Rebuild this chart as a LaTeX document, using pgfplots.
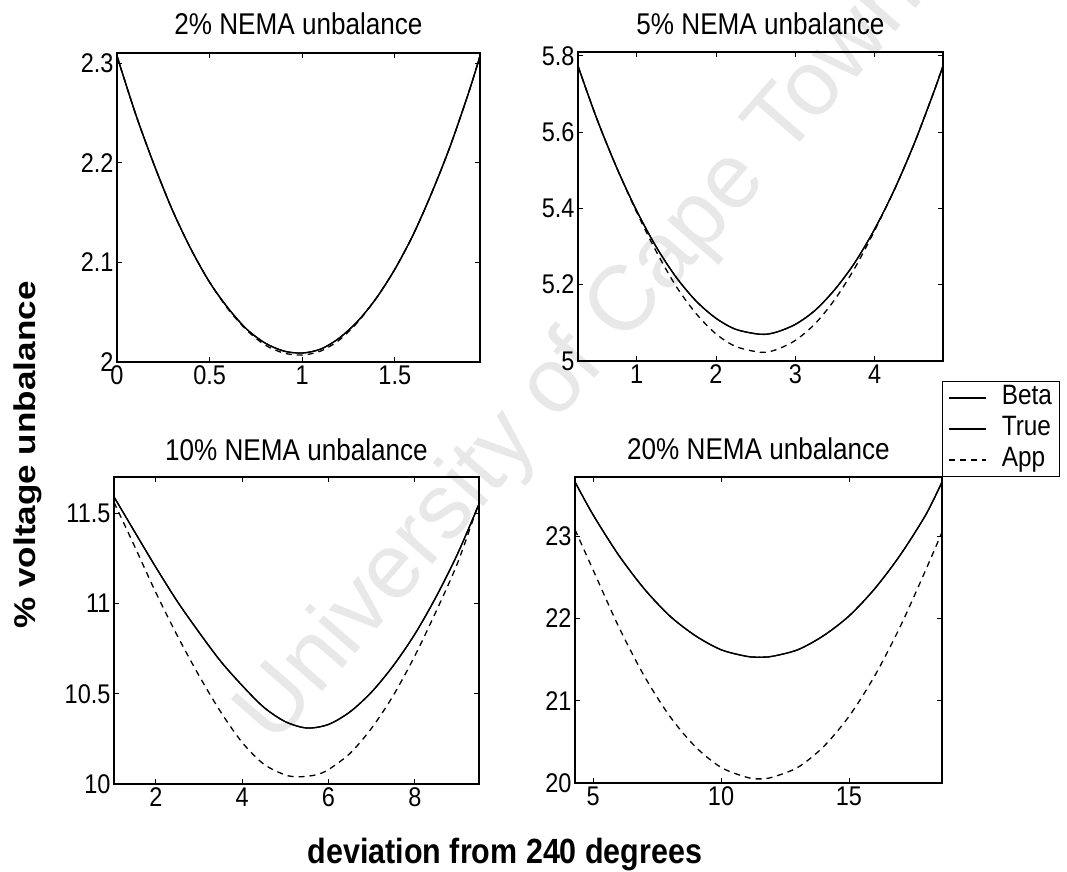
\documentclass[border=0pt]{standalone}
\usepackage{fontspec}
\setmainfont{Liberation Sans}[FakeStretch=0.87]
\newfontfamily\ylabfont{Liberation Sans}[FakeStretch=1.17]
\newfontfamily\wmfont{Liberation Sans}
\usepackage{pgfplots}
\pgfplotsset{compat=1.18}
\pgfplotsset{
  sub/.style={
    scale only axis, anchor=south west,
    axis line style={line width=1.2pt, black},
    tick align=inside, major tick length=5pt,
    every tick/.style={black, line width=0.9pt},
    tick label style={font=\fontsize{27}{27}\selectfont},
    /pgf/number format/assume math mode=true,
    every axis title/.style={at={(0.5,1)}, anchor=base, yshift=18pt, font=\fontsize{30}{30}\selectfont},
  },
  tl/.style={black, line width=1.3pt, smooth},
  ap/.style={black, line width=1.3pt, smooth, dash pattern=on 6pt off 5pt},
}
\begin{document}
\begin{tikzpicture}
\path[use as bounding box] (0,0) rectangle (1067pt,871pt);
\clip (0,0) rectangle (1067pt,871pt);
% watermark
\node[rotate=49, text=black!9, font=\wmfont\fontsize{92}{92}\selectfont] at (582pt,514pt) {University of Cape Town};

% ---------- 2% ----------
\begin{axis}[sub, at={(117pt,509pt)}, width=363pt, height=309pt,
  xmin=0, xmax=1.96, ymin=2, ymax=2.31,
  xtick={0,0.5,1,1.5}, ytick={2,2.1,2.2,2.3},
  title={2\% NEMA unbalance}]
\addplot[tl] coordinates {(0,2.307)(0.1,2.249)(0.2,2.198)(0.3,2.152)(0.4,2.113)(0.5,2.080)(0.6,2.054)(0.7,2.033)(0.8,2.019)(0.9,2.011)(1.0,2.009)(1.1,2.013)(1.2,2.024)(1.3,2.041)(1.4,2.064)(1.5,2.093)(1.6,2.128)(1.7,2.170)(1.8,2.217)(1.9,2.271)(1.96,2.307)};
\addplot[tl] coordinates {(0,2.307)(0.1,2.249)(0.2,2.198)(0.3,2.152)(0.4,2.113)(0.5,2.080)(0.6,2.054)(0.7,2.033)(0.8,2.019)(0.9,2.011)(1.0,2.009)(1.1,2.013)(1.2,2.024)(1.3,2.041)(1.4,2.064)(1.5,2.093)(1.6,2.128)(1.7,2.170)(1.8,2.217)(1.9,2.271)(1.96,2.307)};
\addplot[ap] coordinates {(0,2.307)(0.1,2.249)(0.2,2.198)(0.3,2.152)(0.4,2.113)(0.5,2.080)(0.6,2.053)(0.7,2.032)(0.8,2.017)(0.9,2.009)(1.0,2.007)(1.1,2.011)(1.2,2.022)(1.3,2.040)(1.4,2.064)(1.5,2.093)(1.6,2.128)(1.7,2.170)(1.8,2.217)(1.9,2.271)(1.96,2.307)};
\end{axis}

% ---------- 5% ----------
\begin{axis}[sub, at={(578pt,510pt)}, width=365pt, height=309pt,
  xmin=0.261, xmax=4.861, ymin=5, ymax=5.81,
  xtick={1,2,3,4}, ytick={5,5.2,5.4,5.6,5.8},
  title={5\% NEMA unbalance},
  legend style={at={(0.9973,-0.0647)}, anchor=north west, draw=black, line width=1pt,
    fill=white, inner xsep=6pt, inner ysep=1pt,
    font=\fontsize{28}{28}\selectfont,
    nodes={inner sep=2pt, text height=20pt, text depth=7pt},
    /tikz/every odd column/.append style={column sep=13pt}},
  legend cell align=left,
  legend image code/.code={\draw[#1] (0pt,0pt) -- (37pt,0pt);}]
\addplot[tl] coordinates {(0.261,5.773)(0.5,5.634)(0.75,5.506)(1.0,5.394)(1.25,5.298)(1.5,5.219)(1.75,5.157)(2.0,5.112)(2.25,5.083)(2.56,5.070)(2.75,5.075)(3.0,5.096)(3.25,5.133)(3.5,5.188)(3.75,5.258)(4.0,5.346)(4.25,5.450)(4.5,5.571)(4.75,5.708)(4.861,5.774)};
\addplot[tl] coordinates {(0.261,5.773)(0.5,5.634)(0.75,5.506)(1.0,5.394)(1.25,5.298)(1.5,5.219)(1.75,5.157)(2.0,5.112)(2.25,5.083)(2.56,5.070)(2.75,5.075)(3.0,5.096)(3.25,5.133)(3.5,5.188)(3.75,5.258)(4.0,5.346)(4.25,5.450)(4.5,5.571)(4.75,5.708)(4.861,5.774)};
\addplot[ap] coordinates {(0.261,5.773)(0.5,5.634)(0.75,5.506)(1.0,5.390)(1.25,5.286)(1.5,5.195)(1.75,5.124)(2.0,5.071)(2.25,5.038)(2.56,5.023)(2.75,5.029)(3.0,5.054)(3.25,5.098)(3.5,5.162)(3.75,5.244)(4.0,5.342)(4.25,5.450)(4.5,5.571)(4.75,5.708)(4.861,5.774)};
\legend{Beta,True,App}
\end{axis}

% ---------- 10% ----------
\begin{axis}[sub, at={(114pt,87pt)}, width=365pt, height=307pt,
  xmin=1.03, xmax=9.486, ymin=10, ymax=11.7,
  xtick={2,4,6,8}, ytick={10,10.5,11,11.5},
  every axis title/.append style={yshift=-1pt},
  title={10\% NEMA unbalance}]
\addplot[tl] coordinates {(1.03,11.59)(1.5,11.40)(2.0,11.20)(2.5,11.01)(3.0,10.84)(3.5,10.68)(4.0,10.545)(4.5,10.425)(5.0,10.345)(5.5,10.31)(6.0,10.33)(6.5,10.40)(7.0,10.51)(7.5,10.655)(8.0,10.83)(8.5,11.04)(9.0,11.28)(9.486,11.55)};
\addplot[tl] coordinates {(1.03,11.59)(1.5,11.40)(2.0,11.20)(2.5,11.01)(3.0,10.84)(3.5,10.68)(4.0,10.545)(4.5,10.425)(5.0,10.345)(5.5,10.31)(6.0,10.33)(6.5,10.40)(7.0,10.51)(7.5,10.655)(8.0,10.83)(8.5,11.04)(9.0,11.28)(9.486,11.55)};
\addplot[ap] coordinates {(1.03,11.56)(1.5,11.32)(2.0,11.06)(2.5,10.82)(3.0,10.60)(3.5,10.40)(4.0,10.23)(4.5,10.11)(5.0,10.05)(5.32,10.04)(5.7,10.05)(6.0,10.08)(6.5,10.17)(7.0,10.31)(7.5,10.49)(8.0,10.71)(8.5,10.96)(9.0,11.23)(9.486,11.56)};
\end{axis}

% ---------- 20% ----------
\begin{axis}[sub, at={(575pt,88pt)}, width=367pt, height=306pt,
  xmin=4.293, xmax=18.635, ymin=20, ymax=23.72,
  xtick={5,10,15}, ytick={20,21,22,23},
  every axis title/.append style={yshift=-1pt},
  title={20\% NEMA unbalance}]
\addplot[tl] coordinates {(4.293,23.66)(5,23.26)(6,22.77)(7,22.36)(8,22.03)(9,21.79)(10,21.62)(11,21.54)(11.5,21.53)(12,21.54)(13,21.62)(14,21.79)(15,22.03)(16,22.36)(17,22.77)(18,23.26)(18.635,23.66)};
\addplot[tl] coordinates {(4.293,23.66)(5,23.26)(6,22.77)(7,22.36)(8,22.03)(9,21.79)(10,21.62)(11,21.54)(11.5,21.53)(12,21.54)(13,21.62)(14,21.79)(15,22.03)(16,22.36)(17,22.77)(18,23.26)(18.635,23.66)};
\addplot[ap] coordinates {(4.293,23.08)(5,22.59)(6,21.90)(7,21.30)(8,20.81)(9,20.44)(10,20.19)(11,20.07)(11.5,20.05)(12,20.07)(13,20.19)(14,20.44)(15,20.81)(16,21.30)(17,21.90)(18,22.59)(18.635,23.05)};
\end{axis}

% overall labels
\node[anchor=base, font=\bfseries\fontsize{35}{35}\selectfont] at (505pt,8pt) {deviation from 240 degrees};
\node[rotate=90, anchor=base, font=\ylabfont\bfseries\fontsize{30}{30}\selectfont] at (35pt,416pt) {\% voltage unbalance};
\end{tikzpicture}
\end{document}
